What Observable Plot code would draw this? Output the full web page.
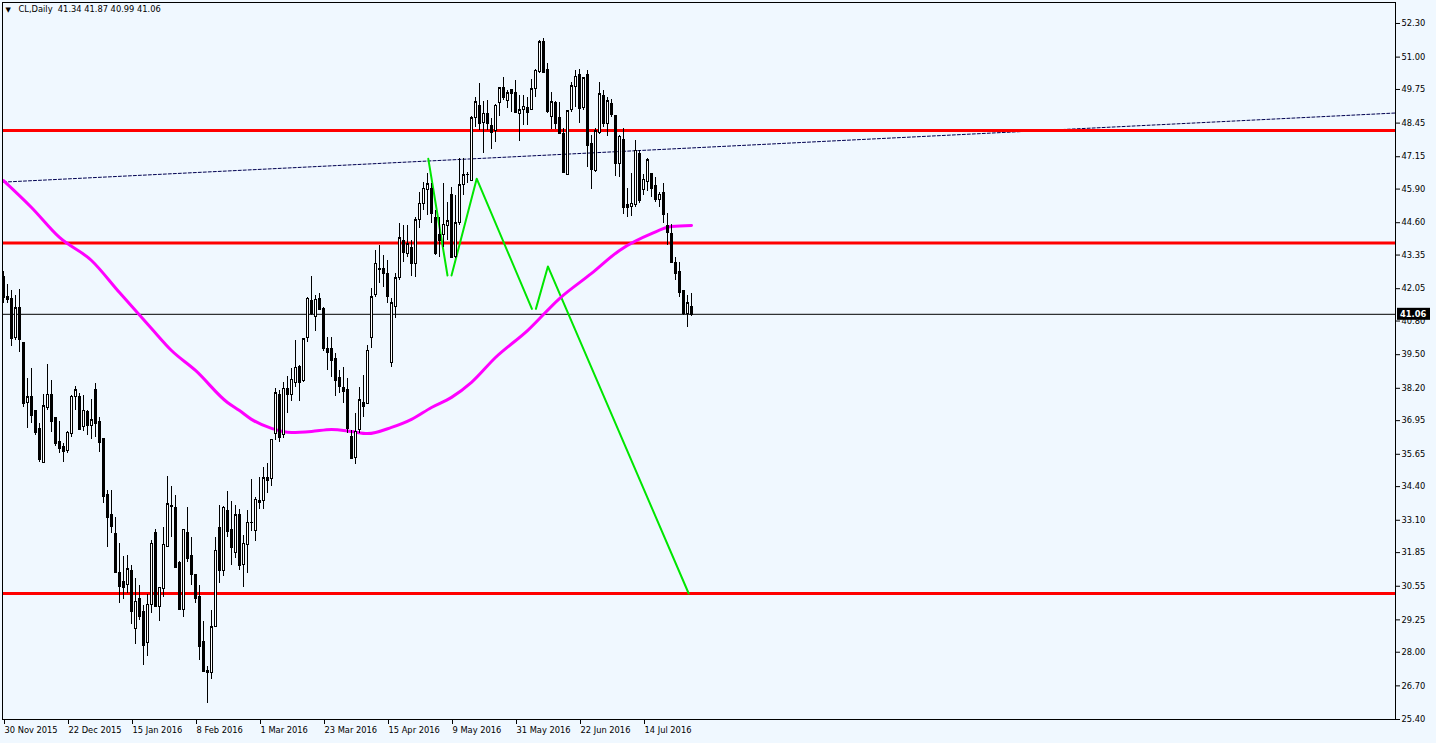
<!DOCTYPE html>
<html><head><meta charset="utf-8">
<script src="https://cdn.jsdelivr.net/npm/d3@7"></script>
<script src="https://cdn.jsdelivr.net/npm/@observablehq/plot@0.6"></script>
<style>html,body{margin:0;padding:0;background:#f0f8ff;overflow:hidden;}</style>
</head><body><div id="chart"></div>
<script>
// CL Daily candles (bar index 0 = 30 Nov 2015)
const opens = [42.52,41.71,41.67,40.13,41.29,39.97,37.65,37.85,37.34,36.61,
35.33,37.42,37.96,37.07,36.11,35.95,35.76,36.45,37.85,37.88,
36.69,37.30,36.76,38.12,36.88,36.26,34.06,33.29,32.55,31.08,
30.70,30.58,31.12,28.88,30.04,29.57,28.34,29.81,32.59,29.73,
30.46,32.05,33.63,33.56,31.43,29.65,32.59,31.70,31.00,30.15,
28.38,27.26,27.18,28.96,32.82,31.12,33.44,32.74,31.82,33.32,
31.39,32.16,32.98,32.67,33.86,33.86,34.72,34.68,36.42,37.96,
36.38,38.19,37.96,38.39,39.04,38.50,40.13,41.59,40.94,41.67,
41.25,39.70,39.70,39.35,38.58,38.23,38.12,36.30,35.49,36.57,
37.65,37.61,40.13,41.79,42.83,42.83,42.60,39.16,41.36,42.45,
43.91,43.41,43.64,43.02,44.69,45.34,45.88,45.92,44.80,44.11,
44.11,44.49,45.69,43.26,44.57,46.04,46.43,46.23,48.63,49.13,
48.44,48.82,48.32,48.13,49.21,49.79,49.32,49.71,49.63,48.82,
48.94,49.05,48.94,49.75,50.41,51.57,50.52,48.67,49.21,48.63,
48.01,46.43,48.94,49.83,50.29,49.02,50.29,47.66,46.58,48.05,
49.48,48.40,49.17,48.74,46.85,47.78,45.27,45.19,45.30,47.24,
45.85,46.16,46.50,46.00,45.46,45.73,44.49,44.18,43.06,42.68,
41.98,41.09,41.34];
const highs = [42.72,42.21,41.98,41.79,42.02,39.97,38.58,38.97,37.34,36.84,
37.96,39.12,38.50,37.07,36.92,36.07,36.53,37.92,38.27,38.00,
37.92,37.34,37.77,38.39,37.07,36.26,34.25,34.25,33.21,32.20,
31.70,31.74,31.35,30.85,30.58,29.81,30.23,32.32,32.74,30.50,
32.82,34.79,34.41,34.06,31.51,32.74,33.59,32.43,31.00,30.58,
29.19,27.45,29.61,32.43,33.67,33.63,34.21,33.83,33.67,33.52,
32.51,33.48,34.68,33.98,34.75,35.14,35.29,36.22,38.19,38.12,
38.42,38.66,38.97,40.05,39.08,40.13,41.71,42.52,41.79,41.87,
41.32,40.16,40.16,39.55,38.89,39.00,38.58,36.57,37.23,38.23,
38.70,39.86,42.06,43.53,43.72,43.33,43.14,41.67,42.64,44.57,
44.49,44.49,43.91,44.80,45.77,46.16,46.50,46.12,45.07,44.80,
46.12,45.38,45.96,45.65,47.08,47.08,46.54,48.71,49.44,49.98,
49.29,49.32,48.63,49.17,49.79,50.21,49.71,49.75,50.10,49.52,
49.52,49.44,50.14,50.52,51.64,51.72,50.75,49.63,49.29,49.25,
48.24,48.94,50.02,50.48,50.52,50.21,50.48,47.97,48.24,50.02,
49.71,49.44,49.36,48.74,47.97,48.24,45.92,46.50,47.78,47.39,
46.46,47.08,46.50,46.35,45.77,46.12,44.96,44.53,43.26,43.06,
41.98,41.79,41.87];
const lows = [41.48,41.48,39.82,40.05,39.59,37.46,36.65,36.84,36.38,35.33,
35.33,37.34,36.49,35.95,35.68,35.33,35.68,36.30,37.34,36.57,
36.53,36.38,36.22,36.30,35.72,33.75,32.05,32.59,31.08,29.88,
30.04,30.27,29.07,28.30,29.23,27.49,27.83,29.50,29.73,29.19,
30.12,32.05,32.43,31.27,29.65,29.34,31.47,30.58,29.88,27.68,
27.22,26.02,26.95,28.96,30.66,30.93,32.43,31.35,31.62,31.16,
30.50,31.04,32.67,32.28,33.52,33.52,34.14,34.41,36.18,36.11,
36.26,37.23,37.69,38.23,37.69,38.42,39.97,41.02,40.40,41.21,
39.62,38.89,38.62,37.88,38.00,37.61,36.45,35.49,35.26,36.45,
37.07,37.61,39.74,41.71,42.25,42.10,41.48,39.00,40.90,42.37,
43.06,43.26,42.52,42.48,44.38,45.07,44.88,44.57,43.33,43.26,
43.64,43.91,43.26,43.22,44.49,45.65,46.12,46.19,48.28,48.17,
47.28,48.17,47.43,47.70,48.71,49.32,49.02,48.86,48.82,47.74,
48.36,48.36,48.94,49.44,50.37,50.37,48.82,48.20,48.20,48.01,
46.54,46.43,48.86,49.05,48.44,48.94,46.73,45.88,46.54,48.01,
48.28,47.93,48.67,46.39,46.35,44.92,44.80,44.84,45.19,45.34,
45.65,45.81,45.58,45.38,45.19,44.57,43.72,43.06,42.37,41.71,
41.02,40.55,40.99];
const closes = [41.71,41.63,40.13,41.29,40.09,37.61,37.85,37.15,36.49,35.45,
37.50,37.96,36.92,36.07,35.87,35.76,36.49,37.88,38.12,36.61,
37.34,36.76,36.96,36.84,36.11,34.02,33.21,32.86,31.08,30.54,
30.50,31.20,29.57,29.96,29.38,28.26,29.84,32.20,29.77,30.50,
32.16,33.71,33.67,31.27,29.65,32.74,31.62,31.00,30.08,28.22,
27.26,27.22,28.96,31.93,31.16,33.59,32.67,32.05,33.29,31.35,
32.20,33.01,33.01,33.90,33.79,34.72,34.64,36.22,38.00,36.30,
38.19,37.96,38.54,39.00,38.42,40.09,41.67,41.09,41.63,41.25,
39.74,39.59,39.28,38.50,38.27,38.08,36.65,35.49,36.53,37.73,
37.50,39.66,41.71,43.02,42.79,42.64,41.75,41.48,42.45,43.99,
43.45,43.76,43.02,44.69,45.34,45.92,46.08,44.96,43.41,43.91,
44.53,44.65,43.26,44.57,46.04,46.43,46.46,48.63,49.25,48.44,
48.82,48.44,48.09,49.13,49.79,49.44,49.60,49.60,48.86,48.94,
49.09,48.86,49.75,50.48,51.57,50.41,48.90,49.25,48.44,48.05,
46.54,48.90,49.87,50.25,49.02,50.18,47.59,46.66,48.13,49.56,
48.44,49.29,48.78,46.89,47.93,45.19,45.19,45.34,47.39,45.46,
46.27,47.01,45.92,45.50,45.69,44.92,44.22,43.06,42.64,41.90,
41.09,41.48,41.06];

// x-axis labels (every 16 bars)
const xTickBars = [0,16,32,48,64,80,96,112,128,144,160];
const xTickLabels = ["30 Nov 2015","22 Dec 2015","15 Jan 2016","8 Feb 2016","1 Mar 2016","23 Mar 2016","15 Apr 2016","9 May 2016","31 May 2016","22 Jun 2016","14 Jul 2016"];
// y-axis labels
const yTickValues = [52.30,51.00,49.75,48.45,47.15,45.90,44.60,43.35,42.05,40.80,39.50,38.20,36.95,35.65,34.40,33.10,31.85,30.55,29.25,28.00,26.70,25.40];

// moving average (magenta), read at sample bars
const maBars   = [0,7,14,22,29,37,42,48,56,59,62,67,72,77,82,87,91,97,102,107,112,117,123,131,139,147,154,162,167,172];
const maValues = [46.23,45.19,44.03,43.14,41.90,40.51,39.66,38.89,37.65,37.34,37.00,36.65,36.49,36.53,36.61,36.53,36.45,36.69,37.00,37.46,37.85,38.43,39.39,40.43,41.67,42.64,43.53,44.18,44.45,44.49];

// green zigzag projection
const zigzagBars    = [106.2,111.0, 112.0,118.3,132.1, 133.1,136.1,171.3];
const zigzagPrices  = [47.07,42.56, 42.56,46.30,41.27, 41.27,42.91,30.27];
const zigzagSegment = [1,1, 2,2,2, 3,3,3];

// dotted trendline
const trendBars = [0,348];
const trendPrices = [46.17,48.84];

// horizontal red levels
const levelPrices = [48.16,43.82,30.27];

const symbol = "CL,Daily";
const lastBar = closes.length - 1;

const bars = opens.map((o, i) => ({i, open: o, high: highs[i], low: lows[i], close: closes[i]}));
const ma = maBars.map((b, k) => ({i: b, v: maValues[k]}));
const zz = zigzagBars.map((b, k) => ({i: b, v: zigzagPrices[k], seg: zigzagSegment[k]}));
const trend = trendBars.map((b, k) => ({i: b, v: trendPrices[k]}));
const header = `${symbol}  ${opens[lastBar].toFixed(2)} ${highs[lastBar].toFixed(2)} ${lows[lastBar].toFixed(2)} ${closes[lastBar].toFixed(2)}`;

const FONT = "DejaVu Sans";
const chart = Plot.plot({
  width: 1436, height: 743,
  marginLeft: 2, marginRight: 41, marginTop: 2, marginBottom: 24,
  style: {background: "#f0f8ff", fontFamily: FONT, fontSize: "8.3px", color: "black", overflow: "visible"},
  x: {domain: [-0.25, 348]},
  y: {domain: [25.40, 53.111]},
  marks: [
    Plot.line(trend, {x: "i", y: "v", stroke: "#000050", strokeWidth: 1, strokeDasharray: "3,2"}),
    Plot.ruleY(levelPrices, {stroke: "#ff0000", strokeWidth: 3}),
    Plot.ruleY([closes[lastBar]], {stroke: "black", strokeWidth: 1}),
    Plot.line(zz, {x: "i", y: "v", z: "seg", stroke: "#00e600", strokeWidth: 2}),
    Plot.line(ma, {x: "i", y: "v", stroke: "#ff00ff", strokeWidth: 3, curve: "monotone-x"}),
    Plot.ruleX(bars, {x: "i", y1: "low", y2: "high", stroke: "black", strokeWidth: 1, shapeRendering: "crispEdges"}),
    Plot.rect(bars, {x1: d => d.i - 0.25, x2: d => d.i + 0.25, y1: "open", y2: "close",
      fill: d => d.close >= d.open ? "white" : "black", stroke: "black", strokeWidth: 1, shapeRendering: "crispEdges"}),
    Plot.ruleY(bars, {y: "close", x1: d => d.i - 0.375, x2: d => d.i + 0.375, stroke: "black", strokeWidth: 1, shapeRendering: "crispEdges"}),
    Plot.frame({stroke: "black"}),
    Plot.axisY({anchor: "right", ticks: yTickValues, tickFormat: d => d.toFixed(2), tickSize: 4, tickPadding: 2, label: null, fontSize: 8.3}),
    Plot.axisX({ticks: xTickBars, tickFormat: d => xTickLabels[xTickBars.indexOf(d)], tickSize: 5, tickPadding: 3, textAnchor: "start", dx: 1, label: null, fontSize: 8.3}),
    Plot.text(["\u25BC"], {frameAnchor: "top-left", dx: 3, dy: 5, fontSize: 7, lineAnchor: "top", textAnchor: "start"}),
    Plot.text([header], {frameAnchor: "top-left", dx: 16, dy: 4, fontSize: 8.3, lineAnchor: "top", textAnchor: "start"})
  ]
});

// current price tag on the right axis, positioned with the y scale
const yPix = chart.scale("y").apply(closes[lastBar]);
const g = d3.select(chart).append("g");
g.append("rect").attr("x", 1397).attr("y", yPix - 6).attr("width", 33).attr("height", 12).attr("fill", "black");
g.append("text").attr("x", 1400).attr("y", yPix).attr("dy", "0.35em").attr("fill", "white")
  .attr("text-anchor", "start").attr("font-weight", "bold")
  .attr("font-family", FONT).attr("font-size", "8.3px").text(closes[lastBar].toFixed(2));

document.getElementById("chart").appendChild(chart);
</script>
</body></html>
